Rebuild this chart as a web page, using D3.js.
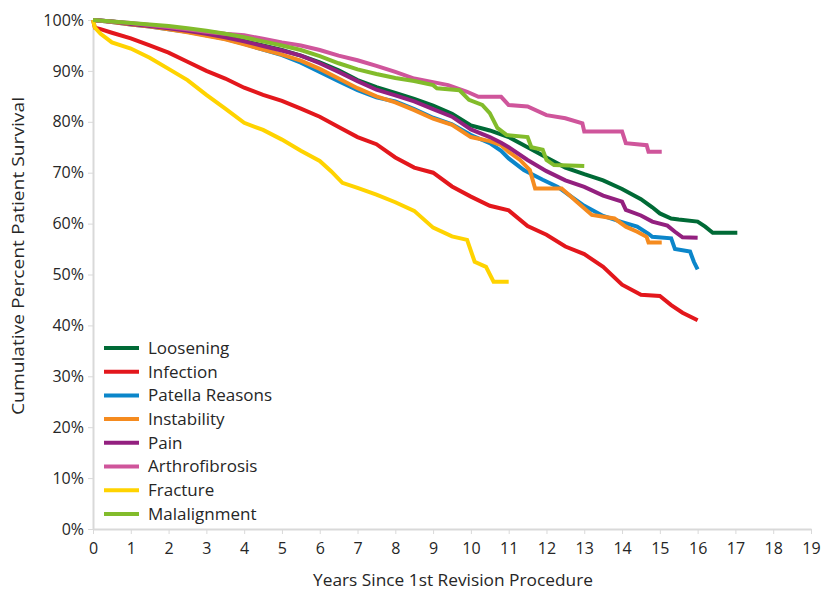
<!DOCTYPE html>
<html><head><meta charset="utf-8">
<script src="https://cdn.jsdelivr.net/npm/d3@7"></script>
<style>
html,body{margin:0;padding:0;background:#fff;}
text{font-family:"Open Sans","Noto Sans",sans-serif;fill:#262626;}
</style></head>
<body><svg id="chart" width="821" height="592"></svg>
<script>
const seriesNames = ["Loosening","Infection","Patella Reasons","Instability","Pain","Arthrofibrosis","Fracture","Malalignment"];
const seriesColors = ["#006a36","#e3171c","#0b86ca","#f58b1f","#93207f","#cf559b","#ffd300","#82bc2b"];
const xTicks = d3.range(0,20,1);
const yTicks = d3.range(0,101,10);

const loosening = [[0,100],[0.5,99.7],[1,99.3],[1.5,98.9],[2,98.5],[2.5,98],[3,97.3],[3.5,96.7],[4,95.9],[4.5,95],[5,94.1],[5.5,93],[6,91.7],[6.5,90.1],[7,88.2],[7.5,86.8],[8,85.7],[8.5,84.5],[9,83.2],[9.5,81.6],[10,79.3],[10.5,78.3],[11,77],[11.5,75],[12,73],[12.5,71],[13,69.7],[13.5,68.5],[14,66.8],[14.5,64.8],[14.8,63.2],[15,62],[15.3,61],[15.5,60.8],[16,60.4],[16.2,59.4],[16.4,58.2],[17.05,58.2]];
const infection = [[0,100],[0.05,98.5],[0.2,98.2],[0.5,97.5],[1,96.4],[1.5,95],[2,93.6],[2.5,91.8],[3,90],[3.5,88.5],[4,86.7],[4.5,85.3],[5,84.1],[5.5,82.6],[6,81],[6.5,79],[7,77],[7.5,75.6],[8,73],[8.5,71],[9,70],[9.5,67.3],[10,65.3],[10.5,63.5],[11,62.6],[11.5,59.5],[12,57.8],[12.5,55.5],[13,54],[13.5,51.5],[14,48],[14.5,46],[15,45.8],[15.3,44],[15.6,42.5],[16,41]];
const patella = [[0,100],[0.5,99.6],[1,99.1],[1.5,98.7],[2,98.2],[2.5,97.7],[3,97],[3.5,96.3],[4,95.3],[4.5,94.2],[5,93.1],[5.5,91.6],[6,89.8],[6.5,88],[7,86.2],[7.5,84.8],[8,84],[8.5,82.5],[9,80.8],[9.5,79.5],[10,77.4],[10.5,75.8],[10.8,74.3],[11,72.8],[11.4,70.5],[11.9,68.6],[12.3,67.2],[12.6,65.6],[13,63.5],[13.5,61.5],[14,60.3],[14.4,59.4],[14.7,58],[14.8,57.4],[15.3,57.1],[15.4,55],[15.8,54.5],[15.9,52.5],[16,51]];
const instability = [[0,100],[0.5,99.6],[1,99.1],[1.5,98.7],[2,98.2],[2.5,97.6],[3,96.9],[3.5,96.2],[4,95.2],[4.5,94.2],[5,93.2],[5.5,92],[6,90.4],[6.5,88.5],[7,86.6],[7.5,85],[8,83.8],[8.5,82.3],[9,80.6],[9.5,79.4],[10,77],[10.5,76.2],[10.8,75.4],[11,74.1],[11.3,72.5],[11.56,70.5],[11.7,66.9],[12.4,66.9],[12.6,65.6],[12.8,64.3],[13.2,61.7],[13.8,61],[14.1,59.4],[14.4,58.4],[14.65,57.4],[14.7,56.3],[15.05,56.3]];
const pain = [[0,100],[0.5,99.7],[1,99.2],[1.5,98.8],[2,98.4],[2.5,97.9],[3,97.3],[3.5,96.6],[4,95.8],[4.5,94.9],[5,94],[5.5,93],[6,91.5],[6.5,89.8],[7,88],[7.5,86.3],[8,85.2],[8.5,84],[9,82.5],[9.5,81],[10,78.5],[10.5,77],[10.8,75.9],[11,75],[11.5,72.5],[12,70.3],[12.5,68.5],[13,67.2],[13.5,65.5],[14,64.3],[14.1,62.7],[14.5,61.6],[14.8,60.4],[15.2,59.6],[15.4,58.4],[15.6,57.3],[16,57.2]];
const arthrofibrosis = [[0,100],[0.5,99.7],[1,99.4],[1.5,99],[2,98.6],[2.5,98.2],[3,97.7],[3.5,97.3],[4,97],[4.5,96.3],[5,95.6],[5.5,95],[6,94.1],[6.5,93],[7,92.1],[7.5,91],[8,89.8],[8.5,88.5],[9,87.8],[9.4,87.2],[9.9,85.9],[10.2,84.9],[10.8,84.9],[11,83.3],[11.5,83],[12,81.3],[12.5,80.7],[12.95,79.7],[13,78.1],[14,78.1],[14.1,75.8],[14.65,75.4],[14.7,74.1],[15.05,74.1]];
const fracture = [[0,100],[0.05,98.5],[0.2,97.3],[0.5,95.6],[1,94.4],[1.5,92.6],[2,90.4],[2.5,88.2],[3,85.3],[3.5,82.6],[4,79.8],[4.5,78.4],[5,76.5],[5.5,74.3],[6,72.3],[6.3,70.3],[6.6,68],[7,67],[7.5,65.7],[8,64.2],[8.5,62.5],[9,59.2],[9.5,57.5],[9.9,56.8],[10.1,52.5],[10.4,51.5],[10.6,48.6],[11,48.6]];
const malalignment = [[0,100],[0.5,99.7],[1,99.4],[1.5,99.1],[2,98.8],[2.5,98.4],[3,97.9],[3.5,97.3],[4,96.6],[4.5,95.8],[5,95],[5.5,94.1],[6,92.9],[6.5,91.5],[7,90.3],[7.5,89.4],[8,88.6],[8.5,88],[9,87.2],[9.1,86.6],[9.7,86.2],[9.95,84.3],[10.3,83.3],[10.5,81.7],[10.7,78.8],[10.95,77.4],[11.5,77],[11.6,75],[11.9,74.5],[12,72.5],[12.2,71.5],[13,71.3]];

const seriesData = [loosening,infection,patella,instability,pain,arthrofibrosis,fracture,malalignment];

const svg = d3.select("#chart");
const x = d3.scaleLinear().domain([0,19]).range([93,811]);
const y = d3.scaleLinear().domain([0,100]).range([529,20]);

// axes
const yAxis = svg.append("g").attr("transform","translate(93,0)")
  .call(d3.axisLeft(y).tickValues(yTicks).tickFormat(d=>d+"%").tickSize(5).tickSizeOuter(0));
const xAxis = svg.append("g").attr("transform","translate(0,529)")
  .call(d3.axisBottom(x).tickValues(xTicks).tickSize(5).tickSizeOuter(0).tickPadding(9));
[yAxis,xAxis].forEach(g=>{
  g.select(".domain").attr("stroke","#d9d9d9").attr("stroke-width",2);
  g.selectAll(".tick line").attr("stroke","#d9d9d9").attr("stroke-width",1);
  g.selectAll(".tick text").style("font-size","16px").attr("fill","#262626");
});
yAxis.selectAll(".tick text").attr("x",-9);

// lines
const line = d3.line().x(d=>x(d[0])).y(d=>y(d[1]));
seriesData.forEach((s,i)=>{
  svg.append("path").datum(s).attr("d",line).attr("fill","none")
    .attr("stroke",seriesColors[i]).attr("stroke-width",4)
    .attr("stroke-linejoin","miter").attr("stroke-linecap","butt");
});

// legend
const lg = svg.append("g");
seriesNames.forEach((n,i)=>{
  const yy = 348 + i*23.7;
  lg.append("line").attr("x1",104).attr("x2",139).attr("y1",yy).attr("y2",yy)
    .attr("stroke",seriesColors[i]).attr("stroke-width",4);
  lg.append("text").attr("x",148).attr("y",yy).attr("dy","0.35em")
    .style("font-size","17px").text(n);
});

// titles
svg.append("text").attr("x",453).attr("y",580).attr("dy","0.35em").attr("text-anchor","middle")
  .style("font-size","16px").attr("textLength",280).attr("lengthAdjust","spacingAndGlyphs")
  .text("Years Since 1st Revision Procedure");
svg.append("text").attr("transform","translate(18,256) rotate(-90)").attr("dy","0.35em")
  .attr("text-anchor","middle").style("font-size","16px").attr("textLength",318).attr("lengthAdjust","spacingAndGlyphs")
  .text("Cumulative Percent Patient Survival");
</script></body></html>
